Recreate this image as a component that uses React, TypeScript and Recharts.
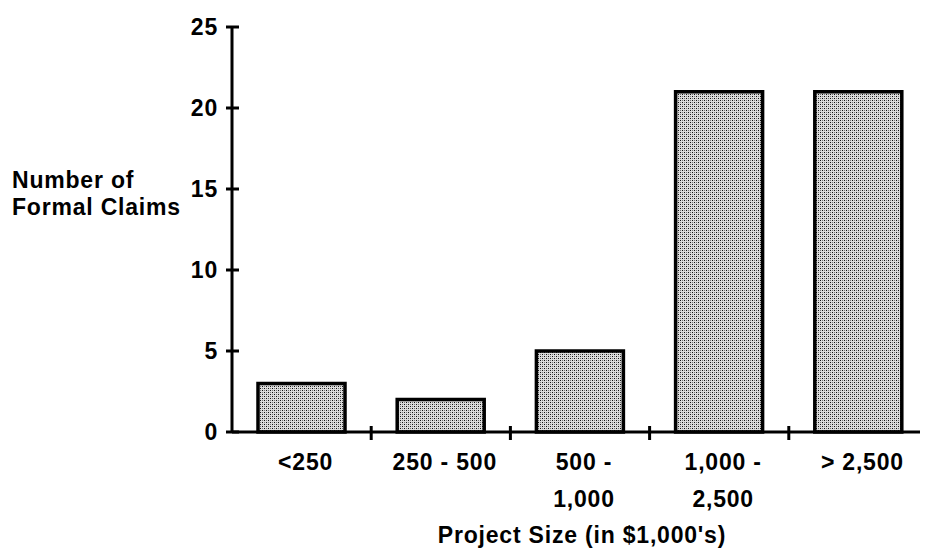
import { BarChart, Bar, XAxis, YAxis } from "recharts"

// ── Data ──────────────────────────────────────────────────────────────────────

const categories = ["<250", "250 - 500", "500 -\n1,000", "1,000 -\n2,500", "> 2,500"]
const claims = [3, 2, 5, 21, 21]
const yTicks = [0, 5, 10, 15, 20, 25]

const data = categories.map((c, i) => ({ size: c, claims: claims[i] }))

const FONT = "'Liberation Sans', Arial, Helvetica, sans-serif"
const textStyle = { fontFamily: FONT, fontSize: 23, fontWeight: 700, letterSpacing: 0.8, fill: "#000" }

// ── Ticks ─────────────────────────────────────────────────────────────────────

function YTick({ x, y, payload }: any) {
  return (
    <g>
      <line x1={x - 6} x2={x + 7} y1={y} y2={y} stroke="#000" strokeWidth={3} />
      <text x={x - 14} y={y} dy={8} textAnchor="end" style={textStyle}>
        {payload.value}
      </text>
    </g>
  )
}

function XTick({ x, y, payload, index }: any) {
  const half = payload.offset || 69.6
  const lines = String(payload.value).split("\n")
  return (
    <g>
      {index > 0 && (
        <line x1={x - half} x2={x - half} y1={y - 6} y2={y + 8} stroke="#000" strokeWidth={3} />
      )}
      {lines.map((l, i) => (
        <text key={i} x={x + 4} y={y + 38 + i * 37} textAnchor="middle" style={textStyle}>
          {l}
        </text>
      ))}
    </g>
  )
}

export default function App() {
  return (
    <div style={{ width: 920, height: 542, background: "#fff" }}>
      <BarChart
        width={920}
        height={542}
        data={data}
        margin={{ top: 19, right: 0, bottom: 0, left: 0 }}
        barSize={87}
      >
        <defs>
          <pattern id="stipple" patternUnits="userSpaceOnUse" width={4} height={4}>
            <rect width={4} height={4} fill="#dcdcdc" />
            <rect x={0} y={0} width={1} height={1} fill="#111" />
            <rect x={2} y={2} width={1} height={1} fill="#111" />
            <rect x={2} y={0} width={1} height={1} fill="#777" />
            <rect x={0} y={2} width={1} height={1} fill="#777" />
          </pattern>
        </defs>
        <XAxis
          dataKey="size"
          height={118}
          axisLine={{ stroke: "#000", strokeWidth: 3 }}
          tickLine={false}
          tickSize={0}
          tickMargin={0}
          interval={0}
          tick={<XTick />}
          label={{
            content: () => (
              <text x={574} y={535} textAnchor="middle" style={textStyle}>
                Project Size (in $1,000's)
              </text>
            ),
          }}
        />
        <YAxis
          width={224}
          domain={[0, 25]}
          ticks={yTicks}
          axisLine={{ stroke: "#000", strokeWidth: 3 }}
          tickLine={false}
          tickSize={0}
          tickMargin={0}
          interval={0}
          tick={<YTick />}
          label={{
            content: () => (
              <text style={textStyle}>
                <tspan x={4} y={180}>Number of</tspan>
                <tspan x={4} y={207}>Formal Claims</tspan>
              </text>
            ),
          }}
        />
        <Bar
          dataKey="claims"
          fill="url(#stipple)"
          stroke="#000"
          strokeWidth={3.5}
          isAnimationActive={false}
        />
      </BarChart>
    </div>
  )
}
